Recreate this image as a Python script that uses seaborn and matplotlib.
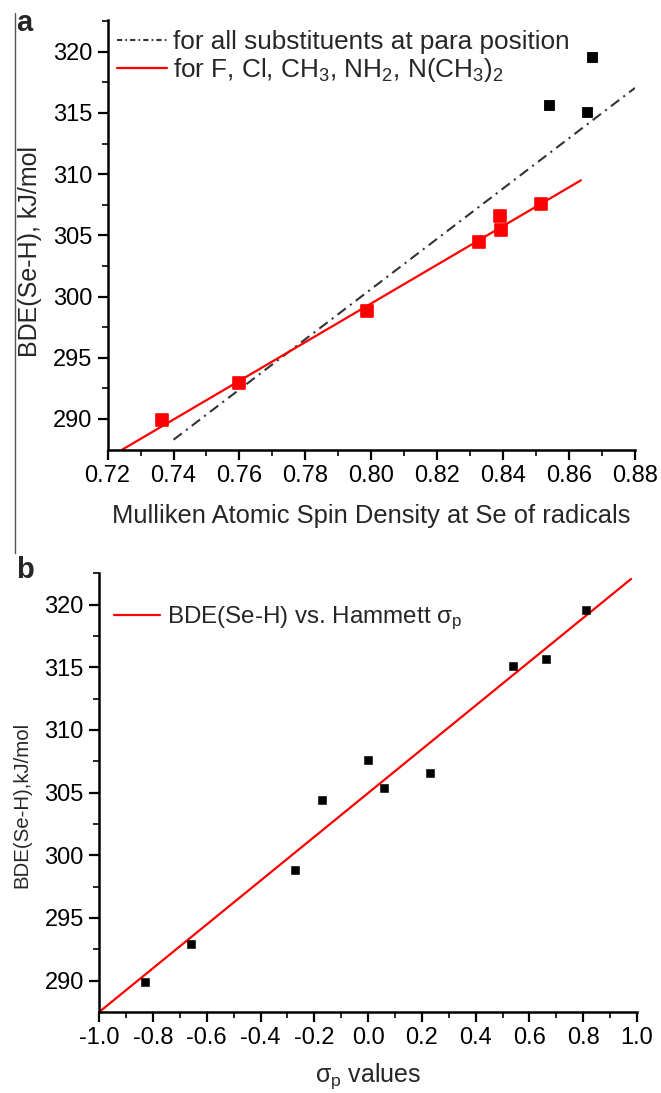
import numpy as np
import pandas as pd
import seaborn as sns
import matplotlib.pyplot as plt
from matplotlib.lines import Line2D

# panel a: BDE vs Mulliken spin density at Se
spin_red = [0.7365, 0.760, 0.7987, 0.8328, 0.839, 0.8392, 0.8515]
bde_red = [289.9, 292.9, 298.8, 304.45, 306.6, 305.4, 307.6]
spin_black = [0.854, 0.8655, 0.867]
bde_black = [315.65, 315.1, 319.55]

# fitted lines (end points)
fit_red_x = [0.7245, 0.8636]
fit_red_y = [287.5, 309.5]
fit_all_x = [0.740, 0.880]
fit_all_y = [288.3, 317.05]

# panel b: BDE vs Hammett sigma_p
sigma_p = [-0.83, -0.66, -0.27, -0.17, 0.0, 0.06, 0.23, 0.54, 0.66, 0.81]
bde_all = [289.9, 292.9, 298.8, 304.45, 307.6, 305.4, 306.6, 315.1, 315.65, 319.55]
fit_b_x = [-1.0, 0.978]
fit_b_y = [287.5, 322.05]

y_ticks = [290, 295, 300, 305, 310, 315, 320]
y_minor = [292.5, 297.5, 302.5, 307.5, 312.5, 317.5, 322.5]
xa_ticks = [0.72, 0.74, 0.76, 0.78, 0.80, 0.82, 0.84, 0.86, 0.88]
xb_ticks = [-1.0, -0.8, -0.6, -0.4, -0.2, 0.0, 0.2, 0.4, 0.6, 0.8, 1.0]

sns.set_style("ticks")
plt.rcParams['font.family'] = ['Liberation Sans', 'DejaVu Sans']
plt.rcParams['mathtext.fontset'] = 'custom'
plt.rcParams['mathtext.rm'] = 'Liberation Sans'
plt.rcParams['mathtext.it'] = 'Liberation Sans'
plt.rcParams['mathtext.sf'] = 'Liberation Sans'

W, H = 661, 1093
fig = plt.figure(figsize=(W / 100, H / 100), dpi=100)


def box(l, t, r, b):
    return [l / W, 1 - b / H, (r - l) / W, (b - t) / H]


def style_axis(ax):
    sns.despine(ax=ax)
    for s in ["left", "bottom"]:
        ax.spines[s].set_linewidth(1.8)
        ax.spines[s].set_color("black")
    ax.tick_params(which="major", direction="out", length=7, width=1.6,
                   labelsize=17, colors="black", pad=4)
    ax.tick_params(which="minor", direction="out", length=4, width=1.4)


# ---------- panel a ----------
a_l, a_r = 107.6, 635
ax1 = fig.add_axes(box(a_l, 20, a_r, 450))
df_red = pd.DataFrame({"x": spin_red, "y": bde_red})
df_black = pd.DataFrame({"x": spin_black, "y": bde_black})
sns.lineplot(x=fit_all_x, y=fit_all_y, ax=ax1, color="#333333", lw=1.5,
             linestyle=(0, (5, 2.5, 1, 2.5)), estimator=None)
sns.lineplot(x=fit_red_x, y=fit_red_y, ax=ax1, color="red", lw=1.6, estimator=None)
sns.scatterplot(data=df_red, x="x", y="y", ax=ax1, marker="s", s=70,
                color="red", edgecolor="red", linewidth=1.2, zorder=3)
sns.scatterplot(data=df_black, x="x", y="y", ax=ax1, marker="s", s=60,
                color="black", edgecolor="black", zorder=3)
ax1.set_xlim(0.72, 0.88)
ax1.set_ylim(287.46, 322.6)
ax1.set_xticks(xa_ticks)
ax1.set_xticklabels([f"{v:.2f}" for v in xa_ticks])
ax1.set_xticks(np.arange(0.73, 0.88, 0.02), minor=True)
ax1.set_yticks(y_ticks)
ax1.set_yticks(y_minor, minor=True)
style_axis(ax1)
ax1.set_xlabel("Mulliken Atomic Spin Density at Se of radicals", fontsize=18.4, labelpad=12)
ax1.set_ylabel("BDE(Se-H), kJ/mol", fontsize=18)
ax1.yaxis.set_label_coords(-(a_l - 42.2) / (a_r - a_l), 0.461)
handles = [
    Line2D([], [], color="#333333", lw=1.5, linestyle=(0, (2.5, 1.5, 0.8, 1.5))),
    Line2D([], [], color="red", lw=1.6),
]
ax1.legend(handles, ["for all substituents at para position",
                     r"for F, Cl, CH$_3$, NH$_2$, N(CH$_3$)$_2$"],
           loc="upper left", bbox_to_anchor=((117.3 - a_l) / (a_r - a_l), 0.977),
           frameon=False, borderpad=0, borderaxespad=0,
           fontsize=18.8, handlelength=1.9, handletextpad=0.25, labelspacing=0.08)

# ---------- panel b ----------
b_l, b_r = 99.2, 637
ax2 = fig.add_axes(box(b_l, 573.3, b_r, 1012))
df_b = pd.DataFrame({"x": sigma_p, "y": bde_all})
sns.lineplot(x=fit_b_x, y=fit_b_y, ax=ax2, color="red", lw=1.6, estimator=None)
sns.scatterplot(data=df_b, x="x", y="y", ax=ax2, marker="s", s=26,
                color="black", edgecolor="black", zorder=3)
ax2.set_xlim(-1.0, 1.0)
ax2.set_ylim(287.5, 322.5)
ax2.set_xticks(xb_ticks)
ax2.set_xticklabels([f"{v:.1f}" for v in xb_ticks])
ax2.set_xticks(np.arange(-0.9, 1.0, 0.2), minor=True)
ax2.set_yticks(y_ticks)
ax2.set_yticks(y_minor, minor=True)
style_axis(ax2)
ax2.set_xlabel(r"$\sigma_p$ values", fontsize=18, labelpad=9)
ax2.set_ylabel("BDE(Se-H),kJ/mol", fontsize=14.7)
ax2.yaxis.set_label_coords(-(b_l - 31.6) / (b_r - b_l), (1012 - 805) / 438.7)
ax2.legend([Line2D([], [], color="red", lw=1.6)],
           [r"BDE(Se-H) vs. Hammett $\sigma_p$"],
           loc="upper left", bbox_to_anchor=((113.9 - b_l) / (b_r - b_l), 0.928),
           frameon=False, borderpad=0, borderaxespad=0,
           fontsize=17.4, handlelength=1.9, handletextpad=0.3)

# panel letters and the thin frame line on the left
fig.text(16 / W, 1 - 31 / H, "a", fontsize=21, fontweight="bold")
fig.text(16 / W, 1 - 578 / H, "b", fontsize=21, fontweight="bold")
fig.add_artist(Line2D([15 / W, 15 / W], [1 - 13 / H, 1 - 553 / H],
                      color="#555555", lw=1.0))

fig.savefig("out.png", dpi=100)
